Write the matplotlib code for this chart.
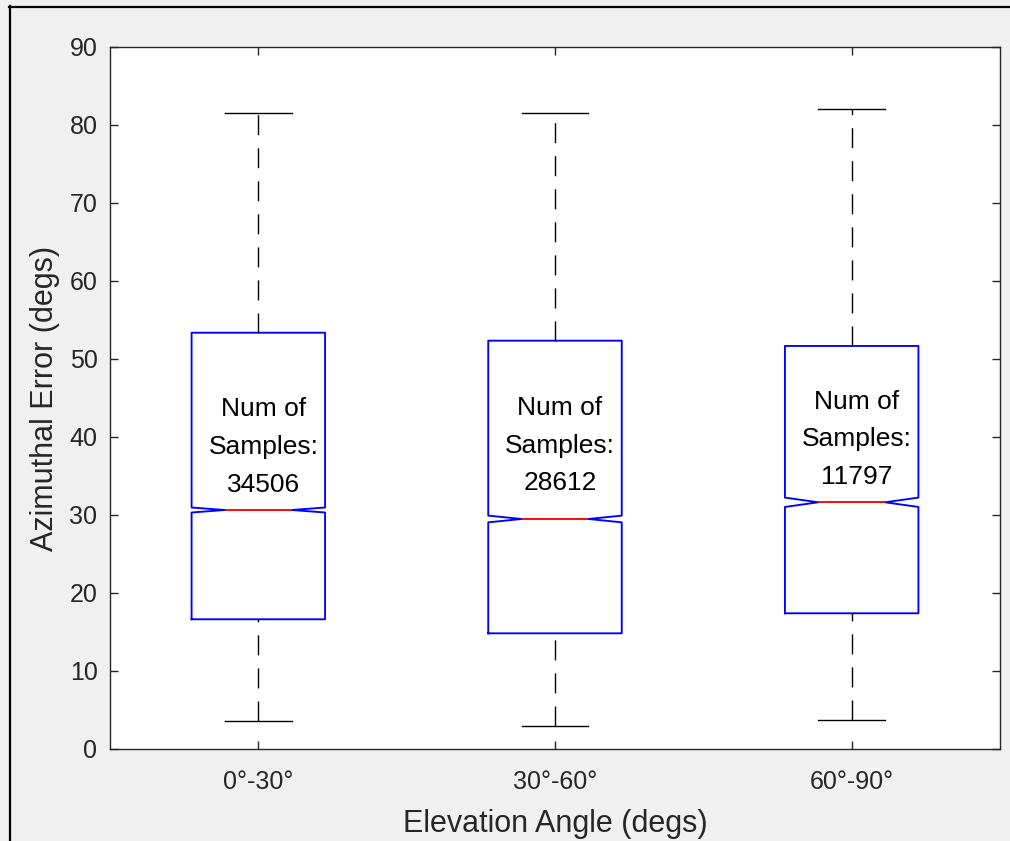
import matplotlib
matplotlib.use("Agg")
import matplotlib.pyplot as plt
from matplotlib.lines import Line2D

# ---- data ----
categories = ["0°-30°", "30°-60°", "60°-90°"]
medians = [30.64, 29.49, 31.63]
q1s = [16.63, 14.83, 17.40]
q3s = [53.37, 52.35, 51.67]
whis_lo = [3.63, 2.95, 3.70]
whis_hi = [81.50, 81.50, 82.00]
notch_half = [0.32, 0.43, 0.60]
num_samples = [34506, 28612, 11797]
text_y = [38.7, 38.9, 39.7]
yticks = [0, 10, 20, 30, 40, 50, 60, 70, 80, 90]

plt.rcParams['font.family'] = ['Liberation Sans', 'DejaVu Sans']
plt.rcParams['lines.scale_dashes'] = False

fig = plt.figure(figsize=(10.10, 8.41), dpi=100, facecolor='#f0f0f0')
ax = fig.add_axes([110/1010, 1-749/841, 890/1010, 702/841])
ax.set_facecolor('white')

positions = [1, 2, 3]
stats = []
for i in range(3):
    stats.append(dict(med=medians[i], q1=q1s[i], q3=q3s[i],
                      whislo=whis_lo[i], whishi=whis_hi[i],
                      cilo=medians[i]-notch_half[i], cihi=medians[i]+notch_half[i],
                      fliers=[], label=categories[i]))

res = ax.bxp(stats, positions=positions, widths=0.45, shownotches=True,
             showfliers=False, patch_artist=False,
             boxprops=dict(color='#0000ff', linewidth=1.35),
             medianprops=dict(color='#ff0000', linewidth=1.35),
             whiskerprops=dict(color='black', linewidth=1.0, linestyle=(0, (14.4, 9.4))),
             capprops=dict(color='black', linewidth=1.0))
# MATLAB draws whiskers from bottom to top: reverse the lower whisker
for k, w in enumerate(res['whiskers']):
    if k % 2 == 0:
        w.set_ydata(list(w.get_ydata())[::-1])
        w.set_xdata(list(w.get_xdata())[::-1])

for i in range(3):
    ax.text(positions[i] + 0.017, text_y[i], f"Num of\nSamples:\n{num_samples[i]}",
            ha='center', va='center', ma='center', fontsize=19, linespacing=1.72,
            color='black')

ax.set_xlim(0.5, 3.5)
ax.set_ylim(0, 90)
ax.set_yticks(yticks)
ax.set_xticks(positions)
ax.set_xticklabels(categories)

axis_col = '#262626'
for s in ax.spines.values():
    s.set_color(axis_col)
    s.set_linewidth(1.0)
ax.tick_params(direction='in', length=5.8, width=1.0, color=axis_col,
               labelcolor=axis_col, labelsize=18, top=True, right=True)
ax.tick_params(axis='x', pad=15)
ax.tick_params(axis='y', pad=9)

ax.set_xlabel("Elevation Angle (degs)", fontsize=22, color=axis_col, labelpad=11)
ax.set_ylabel("Azimuthal Error (degs)", fontsize=22, color=axis_col, labelpad=7)

# window frame lines (top and left)
fig.add_artist(Line2D([9/1010, 1.0], [1-6.5/841, 1-6.5/841], transform=fig.transFigure,
                      color='black', linewidth=1.6))
fig.add_artist(Line2D([9.5/1010, 9.5/1010], [0, 1-6/841], transform=fig.transFigure,
                      color='black', linewidth=1.6))

fig.savefig("out.png", dpi=100, facecolor=fig.get_facecolor())
